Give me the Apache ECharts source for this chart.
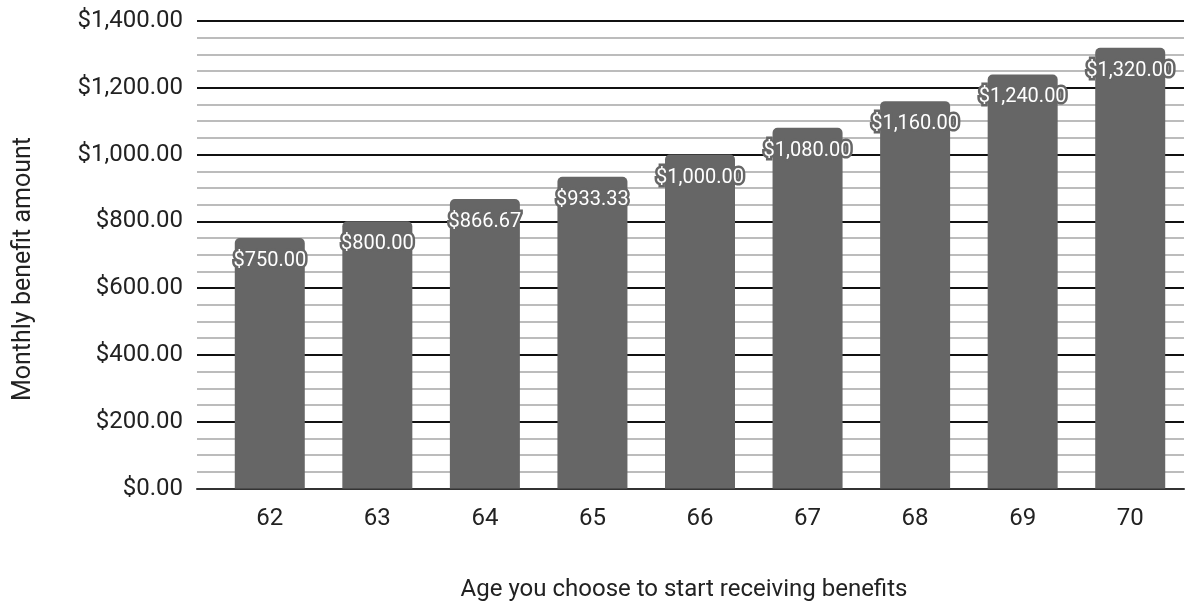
<!DOCTYPE html>
<html>
<head>
<meta charset="utf-8">
<script src="https://cdn.jsdelivr.net/npm/echarts@6/dist/echarts.min.js"></script>
<style>
  html, body { margin: 0; padding: 0; background: #fff; }
  #chart { width: 1198px; height: 605px; }
</style>
</head>
<body>
<div id="chart"></div>
<script>
// Monthly benefit by claiming age
const ages = ['62', '63', '64', '65', '66', '67', '68', '69', '70'];
const monthlyBenefit = [750.00, 800.00, 866.67, 933.33, 1000.00, 1080.00, 1160.00, 1240.00, 1320.00];
const yAxisTitle = 'Monthly benefit amount';
const xAxisTitle = 'Age you choose to start receiving benefits';

const FONT = 'Roboto, "Noto Sans", sans-serif';
const money = v => '$' + Number(v).toLocaleString('en-US', { minimumFractionDigits: 2, maximumFractionDigits: 2 });

const chart = echarts.init(document.getElementById('chart'), null, { renderer: 'canvas' });

const yRange = { min: 0, max: 1400, interval: 200 };

chart.setOption({
  animation: false,
  backgroundColor: '#ffffff',
  textStyle: { fontFamily: FONT },
  title: {
    text: xAxisTitle,
    left: 679,
    top: 573,
    textAlign: 'center',
    textStyle: { fontFamily: FONT, fontSize: 24, fontWeight: 'normal', color: '#222' }
  },
  graphic: [{
    type: 'text',
    x: 24,
    y: 269,
    rotation: Math.PI / 2,
    style: {
      text: yAxisTitle,
      fontFamily: FONT,
      fontSize: 25,
      fill: '#222',
      textAlign: 'center',
      textVerticalAlign: 'middle'
    }
  }],
  grid: [
    // gridline layer, spans a little wider than the bar band
    { left: 197, right: 14, top: 21, bottom: 116.5 },
    // bar layer
    { left: 216, right: 14, top: 21, bottom: 116.5 }
  ],
  xAxis: [
    {
      gridIndex: 0, type: 'value', min: 0, max: 1,
      axisLine: { show: true, onZero: false, lineStyle: { color: '#333', width: 2 } },
      axisTick: { show: false }, axisLabel: { show: false }, splitLine: { show: false }
    },
    {
      gridIndex: 1, type: 'category', data: ages,
      axisLine: { show: false }, axisTick: { show: false },
      axisLabel: { fontFamily: FONT, fontSize: 24, color: '#222', margin: 18 }
    }
  ],
  yAxis: [
    {
      gridIndex: 0, type: 'value', ...yRange,
      axisLine: { show: false }, axisTick: { show: false },
      axisLabel: { fontFamily: FONT, fontSize: 24, color: '#222', margin: 14, formatter: money },
      splitLine: { show: true, lineStyle: { color: '#111', width: 2 } },
      minorTick: { show: false, splitNumber: 4 },
      minorSplitLine: { show: true, lineStyle: { color: '#a6a6a6', width: 1.5 } }
    },
    {
      gridIndex: 1, type: 'value', ...yRange,
      axisLine: { show: false }, axisTick: { show: false },
      axisLabel: { show: false }, splitLine: { show: false }
    }
  ],
  series: [{
    type: 'bar',
    xAxisIndex: 1,
    yAxisIndex: 1,
    data: monthlyBenefit,
    barWidth: 70,
    z: 3,
    itemStyle: { color: '#666666', borderRadius: [5, 5, 0, 0] },
    label: {
      show: true,
      position: 'insideTop',
      distance: 13,
      formatter: p => money(p.value),
      fontFamily: FONT,
      fontSize: 20,
      color: '#ffffff',
      textBorderColor: '#666666',
      textBorderWidth: 5
    }
  }]
});
</script>
</body>
</html>
